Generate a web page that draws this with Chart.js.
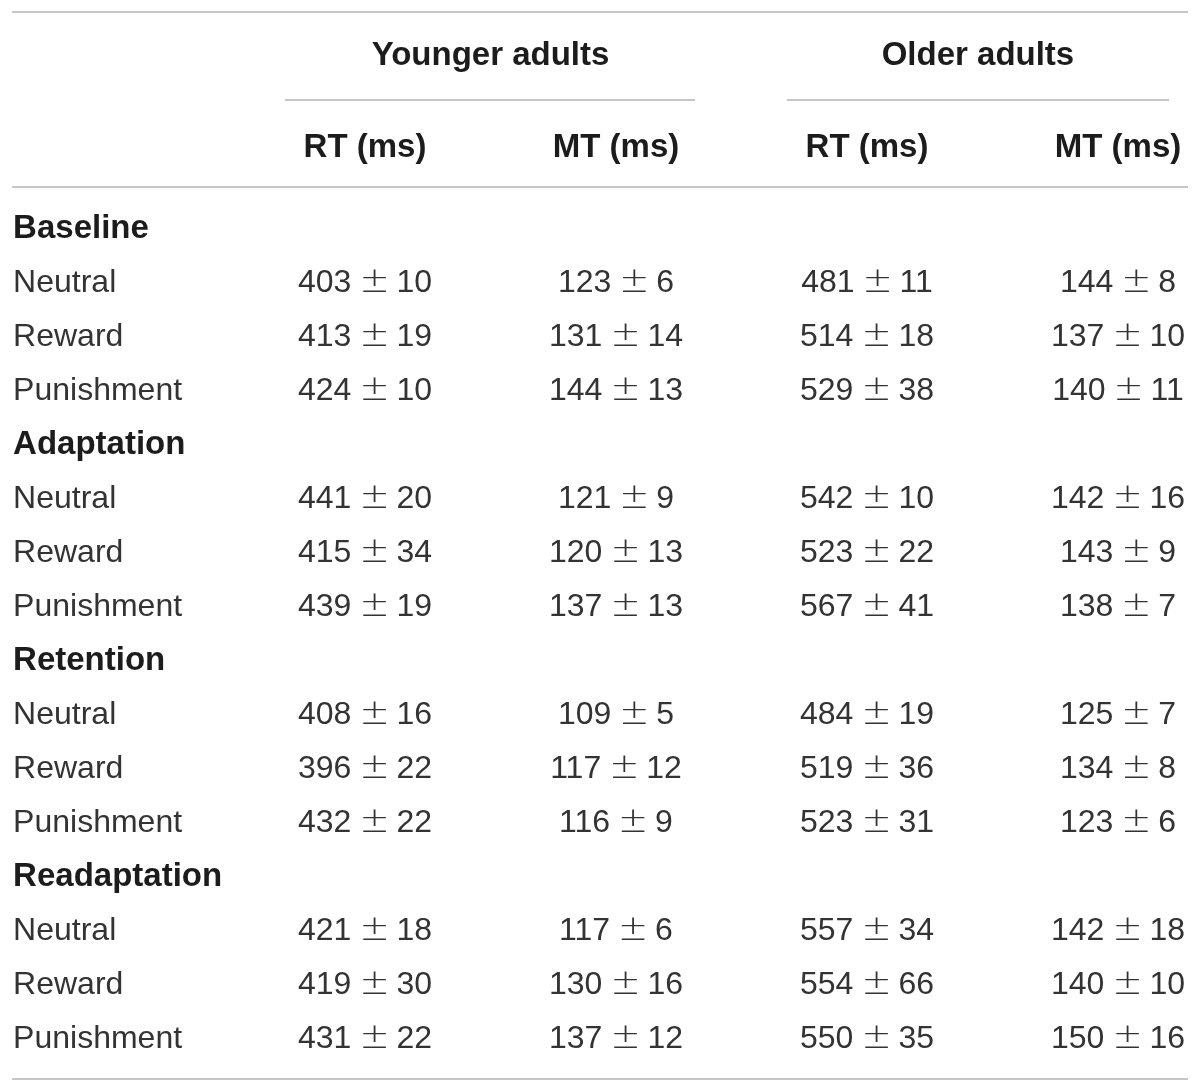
<!DOCTYPE html>
<html><head><meta charset="utf-8">
<script src="https://cdn.jsdelivr.net/npm/chart.js@4.4.1/dist/chart.umd.min.js"></script>
<style>html,body{margin:0;padding:0;background:#fff}#wrap{width:1200px;height:1092px}</style>
</head><body><div id="wrap"><canvas id="c" width="1200" height="1092"></canvas></div>
<script>
// ---- table content ----
const groups = ["Younger adults", "Older adults"];
const measures = ["RT (ms)", "MT (ms)", "RT (ms)", "MT (ms)"];
const phases = ["Baseline", "Adaptation", "Retention", "Readaptation"];
const conditions = ["Neutral", "Reward", "Punishment"];
// values per phase x condition (Baseline N,R,P, Adaptation N,R,P, Retention N,R,P, Readaptation N,R,P)
const youngRTMean = [403, 413, 424, 441, 415, 439, 408, 396, 432, 421, 419, 431];
const youngRTSD   = [10, 19, 10, 20, 34, 19, 16, 22, 22, 18, 30, 22];
const youngMTMean = [123, 131, 144, 121, 120, 137, 109, 117, 116, 117, 130, 137];
const youngMTSD   = [6, 14, 13, 9, 13, 13, 5, 12, 9, 6, 16, 12];
const oldRTMean   = [481, 514, 529, 542, 523, 567, 484, 519, 523, 557, 554, 550];
const oldRTSD     = [11, 18, 38, 10, 22, 41, 19, 36, 31, 34, 66, 35];
const oldMTMean   = [144, 137, 140, 142, 143, 138, 125, 134, 123, 142, 140, 150];
const oldMTSD     = [8, 10, 11, 16, 9, 7, 7, 8, 6, 18, 10, 16];

// ---- layout (column / row units) ----
const labelX = -0.402;
const groupCenters = [1.5, 3.442];
const groupRuleSpans = [[0.681, 2.315], [2.681, 4.203]];
const headerRowY = [-3.204, -1.5];
const fullRule = [-0.406, 4.279];
const ruleRows = {top: -4.185, group: -2.556, mid: -0.944, bottom: 15.574};

const REG = "32px 'Liberation Sans', Arial, sans-serif";
const BOLD = "bold 33px 'Liberation Sans', Arial, sans-serif";
const PM_FONT = "200 36px 'DejaVu Sans ExtraLight', 'DejaVu Sans', sans-serif";
const REG_COLOR = '#333333';
const BOLD_COLOR = '#1c1c1c';
const RULE_COLOR = '#c6c6c6';

const columns = [
  [youngRTMean, youngRTSD],
  [youngMTMean, youngMTSD],
  [oldRTMean, oldRTSD],
  [oldMTMean, oldMTSD]
];

const cells = [];
groups.forEach((g, i) => cells.push({x: groupCenters[i], y: headerRowY[0], t: g, bold: true, align: 'center'}));
measures.forEach((m, i) => cells.push({x: i + 1, y: headerRowY[1], t: m, bold: true, align: 'center'}));
phases.forEach((p, pi) => {
  const base = pi * 4;
  cells.push({x: labelX, y: base, t: p, bold: true, align: 'left'});
  conditions.forEach((c, ci) => {
    const row = base + 1 + ci;
    const d = pi * 3 + ci;
    cells.push({x: labelX, y: row, t: c, bold: false, align: 'left'});
    columns.forEach((col, k) => {
      cells.push({x: k + 1, y: row, t: col[0][d] + ' \u00B1 ' + col[1][d], mean: String(col[0][d]), sd: String(col[1][d]), bold: false, align: 'center'});
    });
  });
});

function rule(x0, x1, y) {
  return {type: 'line', data: [{x: x0, y: y}, {x: x1, y: y}], borderColor: RULE_COLOR,
    borderWidth: 2, pointRadius: 0, fill: false, tension: 0};
}

const datasets = [
  rule(fullRule[0], fullRule[1], ruleRows.top),
  rule(groupRuleSpans[0][0], groupRuleSpans[0][1], ruleRows.group),
  rule(groupRuleSpans[1][0], groupRuleSpans[1][1], ruleRows.group),
  rule(fullRule[0], fullRule[1], ruleRows.mid),
  rule(fullRule[0], fullRule[1], ruleRows.bottom),
  {type: 'scatter', label: 'cells', data: cells, pointRadius: 0, showLine: false}
];

const textPlugin = {
  id: 'cellText',
  afterDatasetsDraw(chart) {
    const idx = chart.data.datasets.length - 1;
    const meta = chart.getDatasetMeta(idx);
    const ctx = chart.ctx;
    ctx.save();
    ctx.textBaseline = 'alphabetic';
    meta.data.forEach((el, i) => {
      const c = chart.data.datasets[idx].data[i];
      ctx.fillStyle = c.bold ? BOLD_COLOR : REG_COLOR;
      if (c.mean !== undefined) {
        // draw "mean ± sd" with a wider plus-minus sign
        ctx.font = REG;
        const wL = ctx.measureText(c.mean).width;
        const wR = ctx.measureText(c.sd).width;
        ctx.font = PM_FONT;
        const pm = ctx.measureText('\u00B1');
        const inkL = pm.actualBoundingBoxLeft, inkR = pm.actualBoundingBoxRight;
        const inkW = inkL + inkR;
        const gapL = 11, gapR = 10;
        const total = wL + gapL + inkW + gapR + wR;
        let x = el.x - total / 2;
        ctx.textAlign = 'left';
        ctx.font = REG;
        ctx.fillText(c.mean, x, el.y);
        x += wL + gapL;
        ctx.font = PM_FONT;
        ctx.fillText('\u00B1', x + inkL, el.y);
        x += inkW + gapR;
        ctx.font = REG;
        ctx.fillText(c.sd, x, el.y);
      } else {
        ctx.font = c.bold ? BOLD : REG;
        ctx.textAlign = c.align;
        ctx.fillText(c.t, el.x, el.y);
      }
    });
    ctx.restore();
  }
};

new Chart(document.getElementById('c'), {
  type: 'scatter',
  data: {datasets},
  options: {
    responsive: false,
    animation: false,
    events: [],
    layout: {padding: 0},
    plugins: {legend: {display: false}, tooltip: {enabled: false}},
    scales: {
      x: {type: 'linear', display: false, min: 1 - 365 / 251, max: 1 + 835 / 251},
      y: {type: 'linear', display: false, reverse: true, min: -238 / 54, max: (1092 - 238) / 54}
    }
  },
  plugins: [textPlugin]
});
</script>
</body></html>
